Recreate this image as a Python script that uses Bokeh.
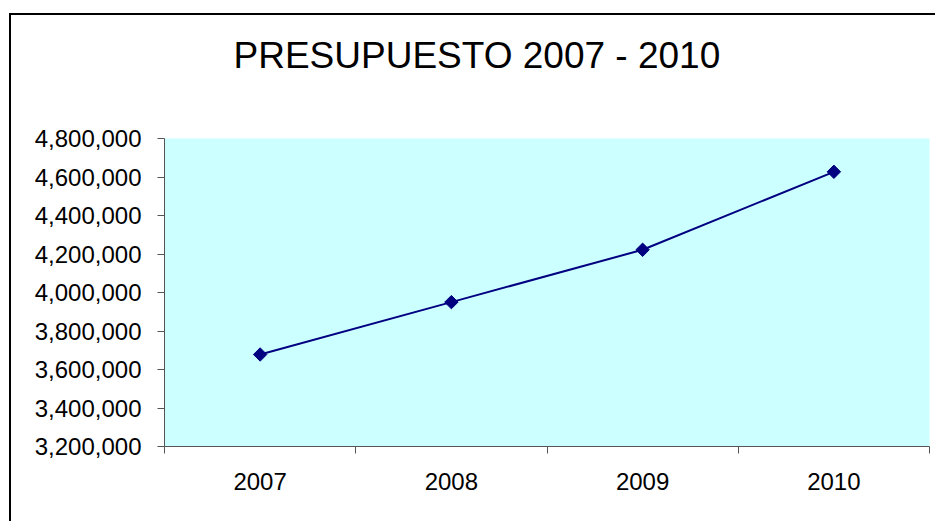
from bokeh.plotting import figure
from bokeh.models import FixedTicker, NumeralTickFormatter, Range1d, InlineStyleSheet, Title
from bokeh.embed import file_html
from bokeh.resources import INLINE

# ---- data ----
title_text = "PRESUPUESTO 2007 - 2010"
years = ["2007", "2008", "2009", "2010"]
budget = [3678000, 3950000, 4222000, 4627000]
y_ticks = [3200000, 3400000, 3600000, 3800000, 4000000, 4200000, 4400000, 4600000, 4800000]

FONT = "Liberation Sans"
AXIS_COL = "#555555"

x_pos = [i + 0.5 for i in range(len(years))]

p = figure(width=935, height=521, output_backend="svg", toolbar_location=None,
           x_range=Range1d(0, len(years)), y_range=Range1d(y_ticks[0], y_ticks[-1]),
           min_border_left=164, min_border_right=6, min_border_top=138, min_border_bottom=75)
p.background_fill_color = "#CCFFFF"
p.border_fill_color = "white"
p.outline_line_color = None
p.grid.visible = False

# blank spacer between plot area and title
p.add_layout(Title(text=" ", text_font_size="10px", standoff=50), "above")

# title
p.title.text = title_text
p.title.align = "left"
p.title.offset = 69
p.title.vertical_align = "bottom"
p.title.standoff = 0
p.title.text_font = FONT
p.title.text_font_size = "37px"
p.title.text_font_style = "normal"
p.title.text_color = "black"

# y axis
p.yaxis.ticker = FixedTicker(ticks=y_ticks)
p.yaxis.formatter = NumeralTickFormatter(format="0,0")
p.yaxis.major_tick_out = 7
p.yaxis.major_tick_in = 0
p.yaxis.minor_tick_line_color = None
p.yaxis.major_label_standoff = 16
p.yaxis.axis_line_color = AXIS_COL
p.yaxis.major_tick_line_color = AXIS_COL
p.yaxis.major_label_text_font = FONT
p.yaxis.major_label_text_font_size = "24px"
p.yaxis.major_label_text_color = "black"

# x axis (category labels centered, ticks between categories)
p.xaxis.ticker = FixedTicker(ticks=x_pos, minor_ticks=list(range(len(years) + 1)))
p.xaxis.major_label_overrides = {xv: yr for xv, yr in zip(x_pos, years)}
p.xaxis.major_tick_line_color = None
p.xaxis.major_tick_out = 0
p.xaxis.major_tick_in = 0
p.xaxis.minor_tick_out = 7
p.xaxis.minor_tick_in = 0
p.xaxis.minor_tick_line_color = AXIS_COL
p.xaxis.axis_line_color = AXIS_COL
p.xaxis.major_label_standoff = 19
p.xaxis.major_label_text_font = FONT
p.xaxis.major_label_text_font_size = "24px"
p.xaxis.major_label_text_color = "black"

# series
p.line(x_pos, budget, line_color="#000080", line_width=2)
p.scatter(x_pos, budget, marker="square", angle=0.785398, size=9.5,
          fill_color="#000080", line_color="#000080")

# chart-area border (only left and top edges are inside the picture)
p.stylesheets = [InlineStyleSheet(css="""
:host { position: relative; }
:host::after {
  content: ""; position: absolute; left: 9px; top: 13px;
  width: 926px; height: 508px; box-sizing: border-box;
  border-left: 2px solid black; border-top: 2px solid black;
  pointer-events: none;
}
""")]

open("out.html", "w").write(file_html(p, INLINE))
